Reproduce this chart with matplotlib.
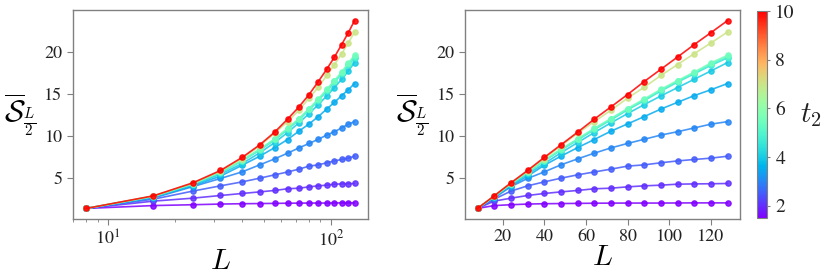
import numpy as np
import matplotlib
matplotlib.use("Agg")
import matplotlib.pyplot as plt
from matplotlib import cm, colors

plt.rcParams['font.family'] = ['STIXGeneral', 'Liberation Serif', 'DejaVu Serif']
plt.rcParams['mathtext.fontset'] = 'cm'

L = [8, 16, 24, 32, 40, 48, 56, 64, 72, 80, 88, 96, 104, 112, 120, 128]
t2 = [1.5, 2.0, 2.5, 3.0, 3.5, 4.0, 4.5, 5.0, 5.5, 7.0, 10.0]

S_t1_5 = [1.36, 1.70, 1.80, 1.88, 1.92, 1.94, 1.96, 1.98, 1.99, 2.00, 2.00, 2.00, 2.01, 2.02, 2.02, 2.02]
S_t2_0 = [1.36, 2.23, 2.58, 2.90, 3.14, 3.33, 3.50, 3.70, 3.77, 3.93, 4.05, 4.13, 4.25, 4.28, 4.30, 4.33]
S_t2_5 = [1.36, 2.46, 3.42, 4.05, 4.52, 4.96, 5.36, 5.70, 6.04, 6.40, 6.55, 6.80, 7.02, 7.19, 7.35, 7.58]
S_t3_0 = [1.36, 2.60, 3.95, 4.93, 5.71, 6.55, 7.26, 7.94, 8.57, 9.10, 9.60, 10.10, 10.50, 10.95, 11.40, 11.70]
S_t3_5 = [1.36, 2.70, 4.05, 5.20, 6.50, 7.58, 8.60, 9.57, 10.56, 11.43, 12.30, 13.20, 14.00, 14.80, 15.50, 16.24]
S_t4_0 = [1.36, 2.75, 4.15, 5.44, 6.70, 7.98, 9.20, 10.40, 11.55, 12.66, 13.73, 14.76, 15.76, 16.75, 17.74, 18.74]
S_t4_5 = [1.36, 2.78, 4.25, 5.62, 7.00, 8.30, 9.50, 10.75, 11.90, 13.10, 14.20, 15.35, 16.40, 17.40, 18.40, 19.30]
S_t5_0 = [1.36, 2.79, 4.28, 5.66, 7.05, 8.36, 9.58, 10.82, 11.98, 13.18, 14.30, 15.45, 16.50, 17.50, 18.55, 19.45]
S_t5_5 = [1.36, 2.80, 4.30, 5.70, 7.10, 8.42, 9.64, 10.90, 12.07, 13.26, 14.40, 15.55, 16.60, 17.60, 18.70, 19.60]
S_t7_0 = [1.36, 2.85, 4.35, 5.80, 7.30, 8.80, 10.30, 11.70, 13.05, 14.50, 15.80, 17.20, 18.50, 19.80, 21.07, 22.38]
S_t10_0 = [1.36, 2.86, 4.40, 5.88, 7.43, 8.93, 10.44, 11.99, 13.45, 14.93, 16.48, 17.94, 19.40, 20.88, 22.30, 23.74]

series = [S_t1_5, S_t2_0, S_t2_5, S_t3_0, S_t3_5, S_t4_0, S_t4_5, S_t5_0, S_t5_5, S_t7_0, S_t10_0]

cbar_ticks = [2, 4, 6, 8, 10]

fig = plt.figure(figsize=(8.31, 2.73), dpi=100)
ax1 = fig.add_axes([0.0878, 0.1978, 0.355, 0.7656])
ax2 = fig.add_axes([0.5596, 0.1978, 0.331, 0.7656])
cax = fig.add_axes([0.911, 0.2015, 0.012, 0.758])

cmap = plt.get_cmap('rainbow')
norm = colors.Normalize(vmin=1.5, vmax=10)

spine_col = '#808080'
text_col = '#222222'
for ax in (ax1, ax2):
    for t, s in zip(t2, series):
        ax.plot(L, s, '-o', color=cmap(norm(t)), lw=1.2, ms=3.8, alpha=0.85)
    ax.set_ylim(0.1, 25)
    ax.set_yticks([5, 10, 15, 20])
    for sp in ax.spines.values():
        sp.set_color(spine_col)
        sp.set_linewidth(1.0)
    ax.tick_params(which='both', direction='out', colors=spine_col, labelcolor=text_col,
                   labelsize=13, top=False, right=False)
    ax.tick_params(which='major', length=4)
    ax.set_xlabel(r'$L$', fontsize=21, labelpad=0)
    ax.set_ylabel(r'$\overline{\mathcal{S}}_{\frac{L}{2}}$', fontsize=22, rotation=0,
                  va='center', ha='right', labelpad=6)

ax1.set_xscale('log')
ax1.tick_params(which='minor', length=2.5)
ax2.set_xticks([20, 40, 60, 80, 100, 120])

sm = cm.ScalarMappable(norm=norm, cmap=cmap)
cb = fig.colorbar(sm, cax=cax)
cb.set_ticks(cbar_ticks)
cb.outline.set_edgecolor(spine_col)
cb.outline.set_linewidth(0.8)
cax.tick_params(colors=spine_col, labelcolor=text_col, labelsize=14, length=2.5, width=0.8)
cb.set_label(r'$t_2$', fontsize=21, rotation=0, labelpad=4, va='center', ha='left', color=text_col)

fig.savefig('out.png', dpi=100)
